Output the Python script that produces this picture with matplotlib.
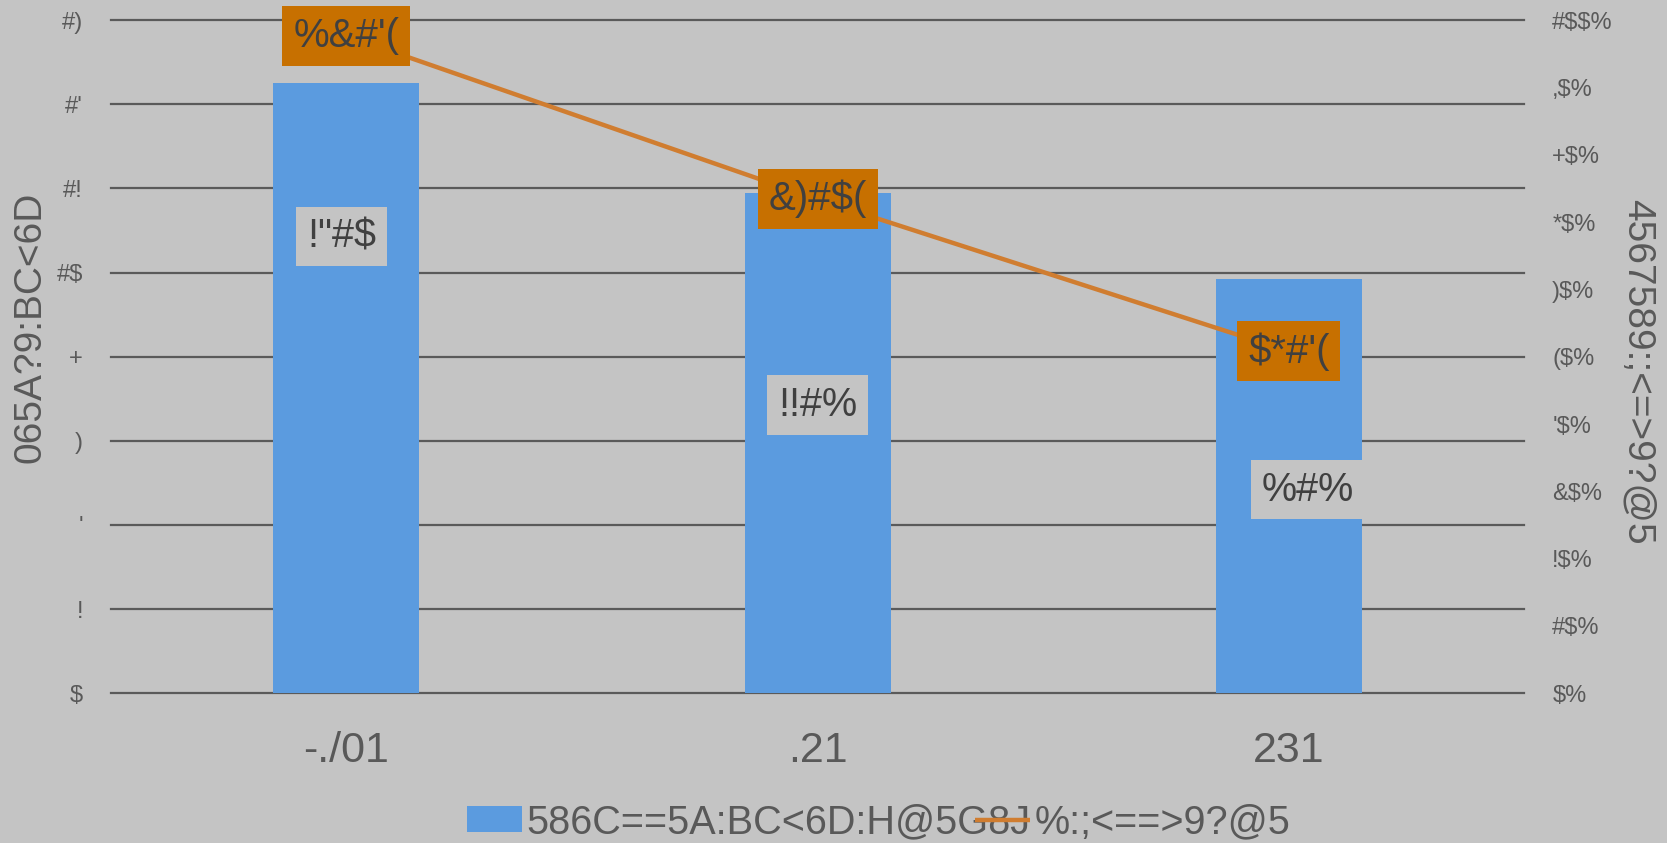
import numpy as np
import matplotlib
matplotlib.use("Agg")
import matplotlib.pyplot as plt

plt.rcParams['font.family'] = ['Liberation Sans', 'DejaVu Sans']
plt.rcParams['text.parse_math'] = False

# data (text is kept exactly as it appears in the reference)
categories = ['-./01', '.21', '231']
bar_values = [14.5, 11.9, 9.85]
bar_labels = ['!"#$', '!!#%', '%#%']
bar_label_y = [10.86, 6.85, 4.84]
bar_label_dx = [-0.01, 0.0, 0.04]
line_values = [97.7, 73.4, 50.8]
line_labels = ["%&#'(", '&)#$(', "$*#'("]

left_ticks = [0, 2, 4, 6, 8, 10, 12, 14, 16]
left_ticklabels = ['$', '!', "'", ')', '+', '#$', '#!', "#'", '#)']
right_ticks = [0, 10, 20, 30, 40, 50, 60, 70, 80, 90, 100]
right_ticklabels = ['$%', '#$%', '!$%', '&$%', "'$%", '($%', ')$%', '*$%', '+$%', ',$%', '#$$%']

left_title = '065A?9:BC<6D'
right_title = '4567589:;<=>9?@5'
bar_name = '586C==5A:BC<6D:H@5G8J'
line_name = '%:;<==>9?@5'

# colours
bg = '#C4C4C4'
bar_color = '#5B9BDF'
line_color = '#D07D30'
box_color = '#C77000'
text_color = '#595959'
dark_text = '#404040'
grid_color = '#5A5A5A'

fig = plt.figure(figsize=(16.67, 8.43), dpi=100)
fig.patch.set_facecolor(bg)
ax = fig.add_axes([0.0664, 0.1777, 0.8481, 0.7983])
ax.set_facecolor(bg)
ax2 = ax.twinx()
ax2.patch.set_visible(False)

x = np.arange(len(categories))
bars = ax.bar(x, bar_values, width=0.31, color=bar_color, label=bar_name, zorder=2)
line, = ax2.plot(x, line_values, color=line_color, lw=3.2, label=line_name,
                 solid_capstyle='butt', zorder=2)

ax.set_xlim(-0.5, 2.5)
ax.set_ylim(0, 16)
ax2.set_ylim(0, 100)

ax.set_xticks(x)
ax.set_xticklabels(categories, fontsize=31, color=text_color)
ax.set_yticks(left_ticks)
ax.set_yticklabels(left_ticklabels, fontsize=17, color=text_color)
ax2.set_yticks(right_ticks)
ax2.set_yticklabels(right_ticklabels, fontsize=17, color=text_color)

ax.tick_params(axis='x', length=0, pad=27)
ax.tick_params(axis='y', length=0, pad=20)
ax2.tick_params(axis='y', length=0, pad=20)

for a in (ax, ax2):
    for s in a.spines.values():
        s.set_visible(False)

ax.set_axisbelow(True)
ax.yaxis.grid(True, color=grid_color, lw=1.6)
for g in ax.get_ygridlines():
    g.set_clip_on(False)

ax.set_ylabel(left_title, fontsize=28, color=text_color, va='center')
ax.yaxis.set_label_coords(-0.057, 0.543)
ax2.set_ylabel(right_title, fontsize=28, color=text_color, rotation=270, va='center')
ax2.yaxis.set_label_coords(1.08, 0.477)

# data labels
for i in range(len(categories)):
    ax.text(x[i] + bar_label_dx[i], bar_label_y[i], bar_labels[i], fontsize=28.5,
            color=dark_text, ha='center', va='center', zorder=3,
            bbox=dict(boxstyle='square,pad=0.27', fc=bg, ec='none'))
    ax2.text(x[i], line_values[i], line_labels[i], fontsize=29,
             color=dark_text, ha='center', va='center', zorder=4,
             bbox=dict(boxstyle='square,pad=0.27', fc=box_color, ec='none'))

fig.legend(handles=[bars, line], labels=[bar_name, line_name], loc='center',
           bbox_to_anchor=(0.527, 0.025), ncol=2, frameon=False, fontsize=28.5,
           labelcolor=text_color, handlelength=1.4, handleheight=0.6,
           handletextpad=0.1, columnspacing=-1.4, borderpad=0)

fig.savefig('out.png', dpi=100, facecolor=bg)
